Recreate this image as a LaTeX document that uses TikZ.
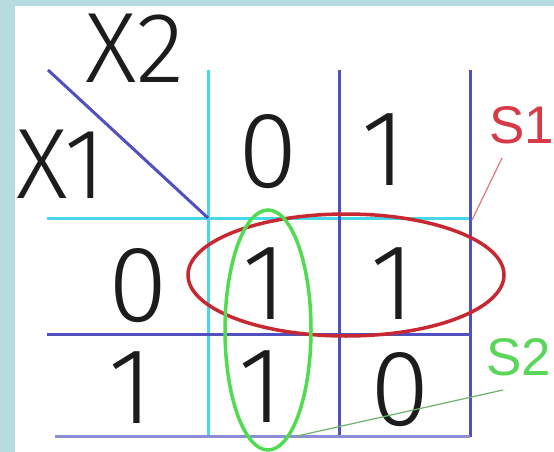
\documentclass[tikz,border=0pt]{standalone}
\usepackage{fontspec}
\setmainfont{Liberation Sans}
\newfontfamily\thinfont{Fira Sans Light}
\usetikzlibrary{shapes.geometric}
\definecolor{bgblue}{RGB}{182,220,224}
\definecolor{cyanline}{RGB}{70,215,235}
\definecolor{blueline}{RGB}{80,80,190}
\definecolor{lightblueline}{RGB}{140,140,215}
\definecolor{loopred}{RGB}{200,40,50}
\definecolor{loopgreen}{RGB}{80,220,80}
\definecolor{sred}{RGB}{215,60,70}
\definecolor{sgreen}{RGB}{90,215,90}
\definecolor{ink}{RGB}{28,28,28}
\begin{document}
\begin{tikzpicture}[x=1pt,y=-1pt,
  big/.style={text=ink,inner sep=0pt,font=\thinfont\fontsize{108}{108}\selectfont},
  axis/.style={text=ink,inner sep=0pt,font=\thinfont\fontsize{100}{100}\selectfont},
  cyangrid/.style={draw=cyanline,line width=3pt},
  bluegrid/.style={draw=blueline,line width=3pt},
  loop/.style={ellipse,draw,line width=3.5pt,inner sep=0pt},
  lbl/.style={inner sep=0pt,font=\fontsize{53}{53}\selectfont}]
\useasboundingbox (0,0) rectangle (554,452);
\fill[bgblue] (0,0) rectangle (554,452);
\fill[white] (15,6) rectangle (554,452);
% grid coordinates
\coordinate (d0) at (48,70);
\coordinate (c) at (208,218);
\coordinate (cyt) at (208,70);
\coordinate (cyb) at (208,437);
\coordinate (cxl) at (47,218);
\coordinate (cxr) at (470,218);
\coordinate (b1t) at (339,70);
\coordinate (b1b) at (339,437);
\coordinate (b2t) at (470,70);
\coordinate (b2b) at (470,437);
\coordinate (h1l) at (47,334);
\coordinate (h1r) at (470,334);
\coordinate (h2l) at (55,436);
\coordinate (h2r) at (470,436);
\draw[cyangrid] (cyt) -- (cyb);
\draw[cyangrid] (cxl) -- (cxr);
\draw[bluegrid] (d0) -- (c);
\draw[bluegrid] (b1t) -- (b1b);
\draw[bluegrid] (b2t) -- (b2b);
\draw[bluegrid] (h1l) -- (h1r);
\draw[draw=lightblueline,line width=3pt] (h2l) -- (h2r);
% texts
\node[axis] (x2) at (135,48) {X2};
\node[axis] (x1) at (61,164) {X1};
\node[big] (h0) at (268,152) {0};
\node[big] (h1) at (384,150) {1};
\node[big] (r0) at (138,286) {0};
\node[big] (r1) at (131,388) {1};
\node[big] (c00) at (265,284) {1};
\node[big] (c01) at (393,284) {1};
\node[big] (c10) at (261,387) {1};
\node[big] (c11) at (400,390) {0};
% loops
\node[loop,draw=loopred,minimum width=316pt,minimum height=122pt] (s1loop) at (346,275) {};
\node[loop,draw=loopgreen,minimum width=86pt,minimum height=240pt] (s2loop) at (268,330) {};
% labels and leaders
\node[lbl,text=sred,anchor=west] (s1) at (489,125) {S1};
\node[lbl,text=sgreen,anchor=west] (s2) at (486,357) {S2};
\coordinate (s1a) at (502,158);
\coordinate (s1b) at (472,220);
\coordinate (s2a) at (503,390);
\coordinate (s2b) at (297,436);
\draw[draw=sred!70,line width=1.2pt] (s1a) -- (s1b);
\draw[draw=sgreen!60!gray,line width=1.2pt] (s2a) -- (s2b);
\end{tikzpicture}
\end{document}
